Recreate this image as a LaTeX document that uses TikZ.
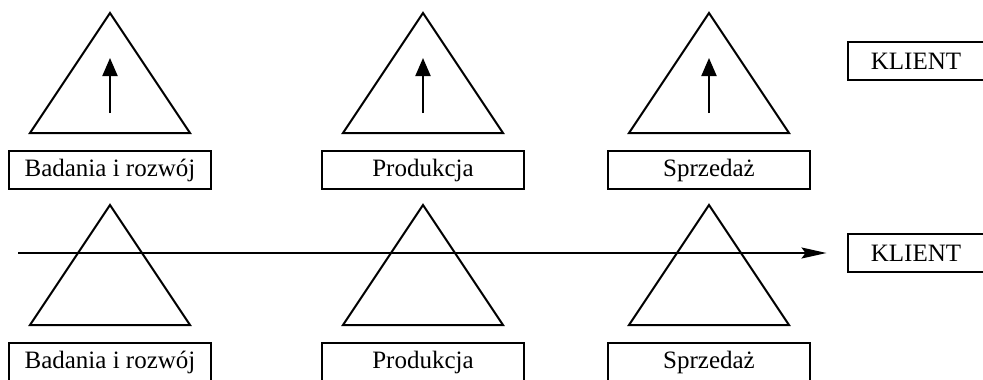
\documentclass[tikz,border=0pt]{standalone}
\usepackage{fontspec}
\setmainfont{Liberation Serif}
\usepackage{tikz}
\usetikzlibrary{arrows.meta,positioning}
\tikzset{
    dzial/.style={draw,line width=2pt,minimum width=202pt,minimum height=38pt,inner sep=0pt,font=\fontsize{25}{28}\selectfont},
    klient/.style={dzial,minimum width=137pt},
    piramida/.style={line width=2pt,line join=miter},
}

\begin{document}
\begin{tikzpicture}[x=1pt,y=-1pt]
    \useasboundingbox (0,0) rectangle (983,380);
    \foreach \cx/\nazwa/\id in {110/Badania i rozwój/br,423/Produkcja/pr,709/Sprzedaż/sp} {
        % gora: struktura pionowa
        \draw[piramida] (\cx,13) -- (\cx+80,133) -- (\cx-80,133) -- cycle;
        \coordinate (od-\id) at (\cx,113);
        \coordinate (do-\id) at (\cx,58);
        \draw[line width=2pt,-{Triangle[length=18pt,width=15pt]}] (od-\id) -- (do-\id);
        \node[dzial] (g-\id) at (\cx,170) {\nazwa};
        % dol: proces poziomy
        \draw[piramida] (\cx,205) -- (\cx+80,325) -- (\cx-80,325) -- cycle;
        \node[dzial] (d-\id) at (\cx,362) {\nazwa};
    }
    \node[klient] (klient-g) at (916,61) {KLIENT};
    \node[klient] (klient-d) at (916,253) {KLIENT};
    \coordinate (start) at (18,253);
    \draw[line width=2pt,-{Stealth[length=25pt,width=11pt,inset=4pt]}] (start) -- ([xshift=-20pt]klient-d.west);
\end{tikzpicture}
\end{document}
